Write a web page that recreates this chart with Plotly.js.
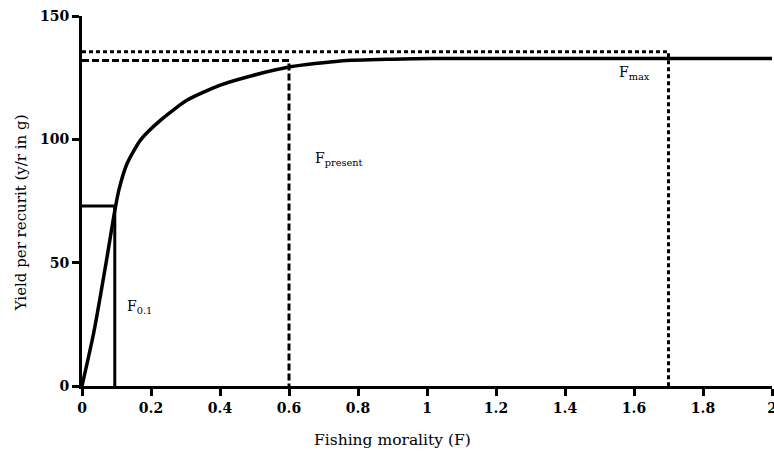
<!DOCTYPE html>
<html>
<head>
<meta charset="utf-8">
<script src="https://cdn.plot.ly/plotly-3.0.1.min.js"></script>
<style>html,body{margin:0;padding:0;background:#fff;}#chart{width:774px;height:453px;}</style>
</head>
<body>
<div id="chart"></div>
<script>
// Yield-per-recruit curve
const fishingF = [0, 0.034, 0.073, 0.092, 0.107, 0.131, 0.17, 0.228, 0.305, 0.401, 0.498, 0.604, 0.749, 0.9, 1.02, 1.2, 1.5, 2.0];
const yieldPR  = [0, 21.6, 52.6, 68.7, 79.5, 90.3, 99.8, 107.8, 115.9, 122, 126, 129.4, 131.8, 132.5, 132.8, 132.8, 132.8, 132.8];

// Reference points
const refNames = ["F0.1", "Fpresent", "Fmax"];
const refF     = [0.095, 0.6, 1.7];
const refY     = [73, 132, 135.5];

const xTicks = [0, 0.2, 0.4, 0.6, 0.8, 1, 1.2, 1.4, 1.6, 1.8, 2];
const yTicks = [0, 50, 100, 150];

const refDash = ["solid", "7px,3px", "4px,3px"];
const refLabels = ["F<sub>0.1</sub>", "F<sub>present</sub>", "F<sub>max</sub>"];
const labelPos = [[0.125, 32], [0.67, 92], [1.55, 127]];

const SERIF = "DejaVu Serif";

const traces = [];
refF.forEach((f, i) => {
  traces.push({
    x: [0, f, f], y: [refY[i], refY[i], 0],
    mode: "lines", type: "scatter", hoverinfo: "skip",
    line: {color: "#000", width: 3, dash: refDash[i]},
    name: refNames[i]
  });
});
traces.push({
  x: fishingF, y: yieldPR, mode: "lines", type: "scatter",
  line: {color: "#000", width: 3.5, shape: "spline", smoothing: 0.6},
  name: "Y/R"
});

const tickFont = {family: SERIF, size: 14, color: "#000", weight: 700};
const layout = {
  width: 774, height: 453,
  margin: {l: 82, r: 2, t: 16, b: 67},
  paper_bgcolor: "#fff", plot_bgcolor: "#fff",
  font: {family: SERIF, color: "#000"},
  showlegend: false,
  xaxis: {
    range: [0, 2], tickvals: xTicks, ticktext: xTicks.map(String),
    ticklabeloverflow: "allow",
    showgrid: false, zeroline: false, showline: true, linecolor: "#000", linewidth: 3,
    ticks: "outside", ticklen: 7, tickwidth: 3, tickcolor: "#000",
    tickfont: tickFont
  },
  yaxis: {
    range: [0, 150], tickvals: yTicks, ticktext: yTicks.map(String),
    showgrid: false, zeroline: false, showline: true, linecolor: "#000", linewidth: 3,
    ticks: "outside", ticklen: 7, tickwidth: 3, tickcolor: "#000",
    tickfont: tickFont
  },
  annotations: [
    {text: "Fishing morality (F)", xref: "paper", yref: "paper", x: (392 - 82) / 690, y: -0.145,
     xanchor: "center", yanchor: "middle", showarrow: false,
     font: {family: SERIF, size: 15.5, color: "#000"}},
    {text: "Yield per recurit (y/r in g)", xref: "paper", yref: "paper", x: -0.088, y: (386 - 213) / 370,
     xanchor: "center", yanchor: "middle", textangle: -90, showarrow: false,
     font: {family: SERIF, size: 15, color: "#000"}}
  ].concat(refLabels.map((t, i) => ({
    text: t, x: labelPos[i][0], y: labelPos[i][1], xref: "x", yref: "y",
    xanchor: "left", yanchor: "middle", showarrow: false,
    font: {family: SERIF, size: 14, color: "#000"}
  })))
};
Plotly.newPlot("chart", traces, layout, {displayModeBar: false, staticPlot: true});
</script>
</body>
</html>
